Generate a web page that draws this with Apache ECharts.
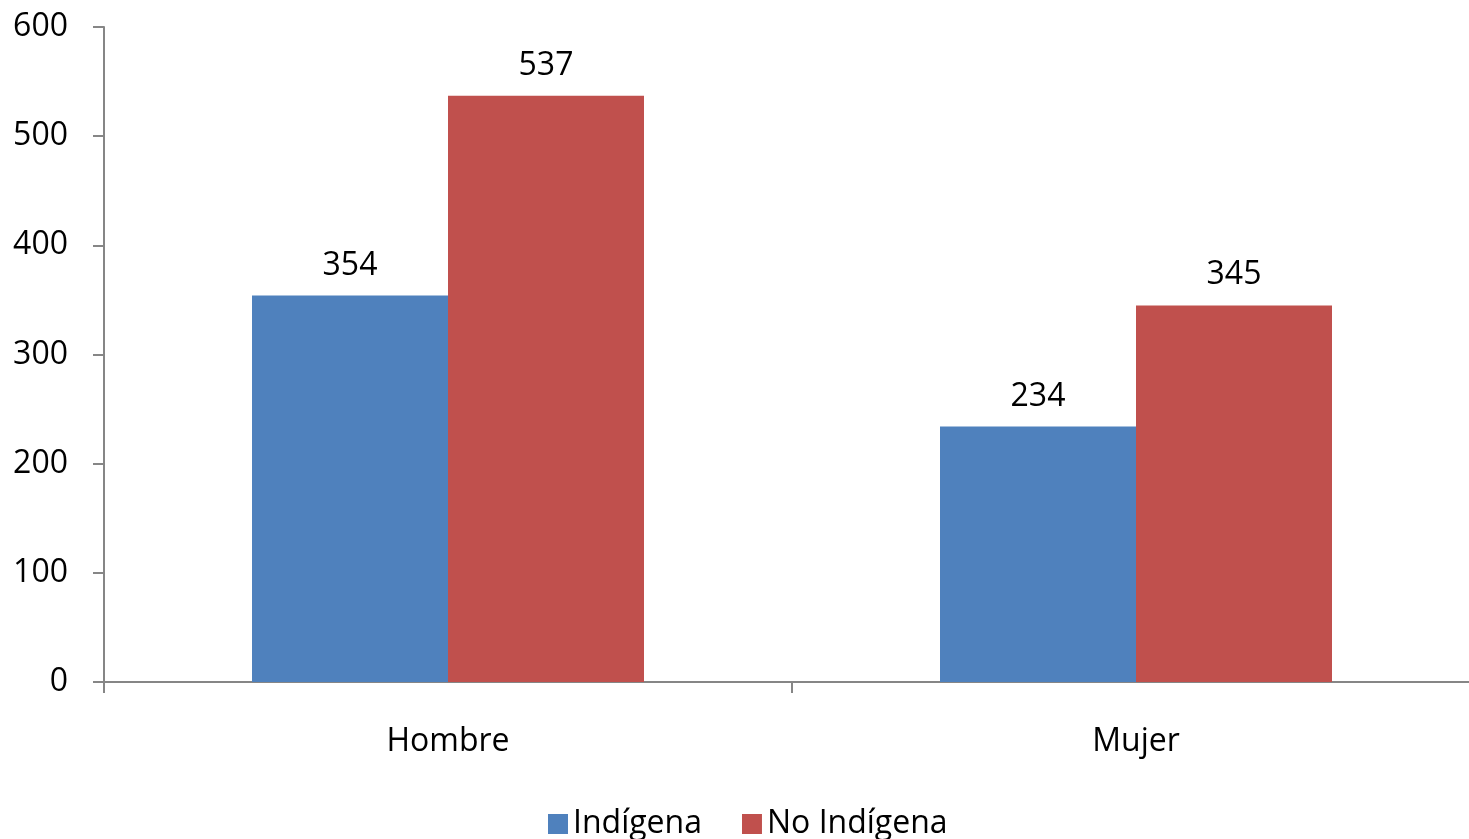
<!DOCTYPE html>
<html>
<head>
<meta charset="utf-8">
<script src="https://cdn.jsdelivr.net/npm/echarts@6/dist/echarts.min.js"></script>
<style>
  html, body { margin: 0; padding: 0; background: #fff; overflow: hidden; }
  #chart { width: 1480px; height: 839px; }
</style>
</head>
<body>
<div id="chart"></div>
<script>
// data
var categories = ['Hombre', 'Mujer'];
var indigena = [354, 234];
var noIndigena = [537, 345];
var seriesNames = ['Indígena', 'No Indígena'];

var fontFam = '"Open Sans", "Noto Sans", sans-serif';
var axisColor = '#868686';

// the axis runs past the right edge of the picture, so the canvas is a bit wider than the window
var chart = echarts.init(document.getElementById('chart'));

var option = {
  animation: false,
  textStyle: { fontFamily: fontFam },
  grid: { left: 104, right: 0, top: 27, bottom: 157, containLabel: false },
  legend: {
    bottom: -6,
    left: 543,
    itemWidth: 20,
    itemHeight: 20,
    itemGap: 40,
    icon: 'rect',
    textStyle: { fontSize: 32, color: '#000', fontFamily: fontFam },
    data: seriesNames
  },
  xAxis: {
    type: 'category',
    data: categories,
    axisLine: { lineStyle: { color: axisColor, width: 2 } },
    axisTick: { show: true, length: 11, lineStyle: { color: axisColor, width: 2 } },
    axisLabel: { fontSize: 32, color: '#000', margin: 44 }
  },
  yAxis: {
    type: 'value',
    min: 0,
    max: 600,
    interval: 100,
    splitLine: { show: false },
    axisLine: { show: true, lineStyle: { color: axisColor, width: 2 } },
    axisTick: { show: true, length: 11, lineStyle: { color: axisColor, width: 2 } },
    axisLabel: { fontSize: 32, color: '#000', margin: 36 }
  },
  series: [
    {
      name: seriesNames[0],
      type: 'bar',
      data: indigena,
      barWidth: 196,
      barGap: '0%',
      itemStyle: { color: '#4f81bd' },
      label: { show: true, position: 'top', distance: 14, fontSize: 32, color: '#000' }
    },
    {
      name: seriesNames[1],
      type: 'bar',
      data: noIndigena,
      barWidth: 196,
      barGap: '0%',
      itemStyle: { color: '#c0504d' },
      label: { show: true, position: 'top', distance: 14, fontSize: 32, color: '#000' }
    }
  ]
};

chart.setOption(option);
</script>
</body>
</html>
